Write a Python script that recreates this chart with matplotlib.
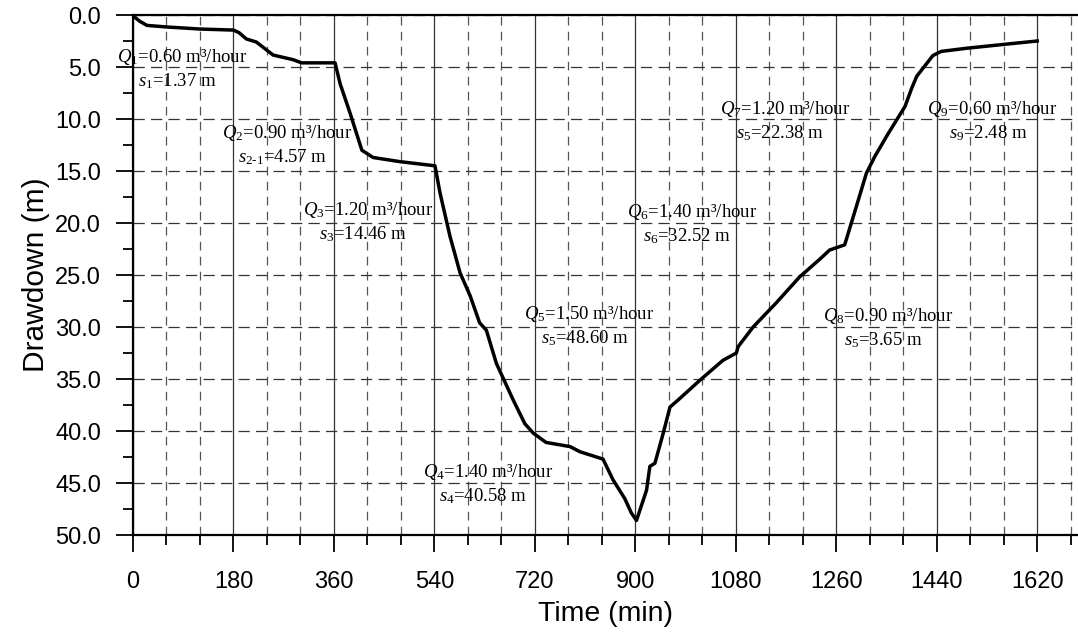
import numpy as np
import matplotlib as mpl
mpl.use('Agg')
import matplotlib.pyplot as plt
import matplotlib.ticker as ticker

plt.rcParams['font.family'] = ['Liberation Sans', 'DejaVu Sans']
plt.rcParams['mathtext.fontset'] = 'custom'
plt.rcParams['mathtext.rm'] = 'Liberation Serif'
plt.rcParams['mathtext.it'] = 'Liberation Serif:italic'

# time (min) and drawdown (m)
time_min = [0, 5, 12, 25, 60, 120, 180, 190, 203, 221, 251, 287, 302, 362, 371, 389,
            410, 430, 478, 541, 550, 568, 586, 604, 621, 633, 651, 681, 702, 717, 740,
            783, 801, 842, 860, 881, 893, 902, 920, 926, 935, 950, 962, 977, 1016, 1057,
            1081, 1084, 1111, 1152, 1194, 1230, 1248, 1275, 1296, 1314, 1329, 1353, 1383,
            1395, 1404, 1433, 1448, 1493, 1565, 1620]
drawdown = [0, 0.3, 0.6, 1.0, 1.15, 1.35, 1.45, 1.7, 2.3, 2.6, 3.85, 4.3, 4.6, 4.6, 6.6, 9.45,
            13.0, 13.7, 14.1, 14.5, 17.1, 21.3, 24.8, 27.0, 29.6, 30.3, 33.5, 37.0, 39.3, 40.2, 41.1,
            41.5, 42.0, 42.7, 44.7, 46.5, 47.9, 48.6, 45.7, 43.4, 43.1, 40.2, 37.7, 37.0, 35.1, 33.2,
            32.5, 31.9, 30.0, 27.7, 25.2, 23.5, 22.6, 22.1, 18.4, 15.2, 13.6, 11.4, 8.8,
            7.05, 5.9, 3.9, 3.5, 3.2, 2.8, 2.5]

# stage labels: (x, y of first line, line 1, line 2)
stage_x = [88, 276, 421, 636, 817, 1001, 1168, 1352, 1540]
stage_y = [4.0, 11.35, 18.75, 43.9, 28.75, 18.95, 9.05, 28.95, 9.05]
stage_q = [r'$Q_1$=0.60 m³/hour', r'$Q_2$=0.90 m³/hour', r'$Q_3$=1.20 m³/hour',
           r'$Q_4$=1.40 m³/hour', r'$Q_5$=1.50 m³/hour', r'$Q_6$=1.40 m³/hour',
           r'$Q_7$=1.20 m³/hour', r'$Q_8$=0.90 m³/hour', r'$Q_9$=0.60 m³/hour']
stage_s = [r'$s_1$=1.37 m', r'$s_{2\text{-}1}$=4.57 m', r'$s_3$=14.46 m',
           r'$s_4$=40.58 m', r'$s_5$=48.60 m', r'$s_6$=32.52 m',
           r'$s_5$=22.38 m', r'$s_5$=3.65 m', r'$s_9$=2.48 m']

fig = plt.figure(figsize=(10.78, 6.39), dpi=100)
ax = fig.add_axes([133 / 1078, 104 / 639, 945 / 1078, 520 / 639])

ax.set_xlim(0, 1693)
ax.set_ylim(50, 0)

ax.xaxis.set_major_locator(ticker.FixedLocator(np.arange(0, 1621, 180)))
ax.xaxis.set_minor_locator(ticker.MultipleLocator(60))
ax.yaxis.set_major_locator(ticker.MultipleLocator(5))
ax.yaxis.set_minor_locator(ticker.MultipleLocator(2.5))
ax.yaxis.set_major_formatter(ticker.FormatStrFormatter('%.1f'))

# grid
ax.grid(True, which='major', axis='x', color='#333333', linestyle='-', linewidth=0.9)
ax.grid(True, which='minor', axis='x', color='#555555', linestyle=(0, (7, 5)), linewidth=0.9)
ax.grid(True, which='major', axis='y', color='#333333', linestyle=(0, (9, 5)), linewidth=0.9)
ax.set_axisbelow(True)

ax.plot(time_min, drawdown, color='black', linewidth=2.5, zorder=3)

for x, y, q, s in zip(stage_x, stage_y, stage_q, stage_s):
    ax.text(x, y, q, ha='center', va='center', fontsize=13.5, family='Liberation Serif', zorder=4)
    ax.text(x - 8, y + 2.35, s, ha='center', va='center', fontsize=13.5, family='Liberation Serif', zorder=4)

for side in ['left', 'bottom', 'top']:
    ax.spines[side].set_linewidth(1.6)
ax.spines['right'].set_visible(False)

ax.tick_params(which='major', direction='out', length=12, width=1.3, labelsize=17)
ax.tick_params(which='minor', direction='out', length=7, width=1.3)
ax.tick_params(axis='x', which='major', pad=14)
ax.tick_params(axis='y', which='major', pad=11)

ax.set_xlabel('Time (min)', fontsize=20.5, labelpad=6)
ax.set_ylabel('Drawdown (m)', fontsize=21.5, labelpad=4)

fig.savefig('out.png', dpi=100)
